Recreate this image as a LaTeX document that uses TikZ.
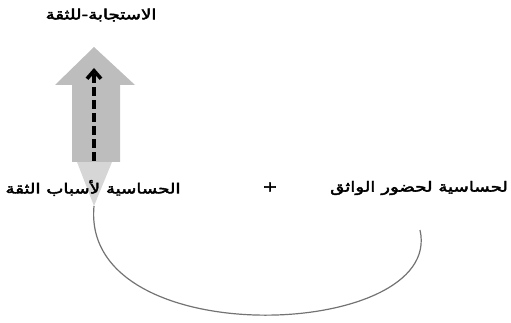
\documentclass[tikz,border=0pt]{standalone}
\usepackage{fontspec}
\newfontfamily\arabicfont[Script=Arabic, FakeBold=3, FakeStretch=1.3]{DejaVu Sans}
\TeXXeTstate=1
\usetikzlibrary{
    arrows.meta,
    positioning
}
\definecolor{blockgray}{gray}{0.74}
\definecolor{funnelgray}{gray}{0.84}
\tikzstyle{artext} = [
    font=\arabicfont\fontsize{14}{16}\selectfont,
    inner sep=0pt
]
\tikzstyle{dasharrow} = [
    -{Straight Barb[length=8pt, width=14pt]},
    line width=3.6pt,
    dash pattern=on 9pt off 4pt,
    draw=black
]

\begin{document}
\begin{tikzpicture}[x=1pt, y=-1pt]
        \useasboundingbox (0,0) rectangle (511,323);

        % Funnel below the block arrow
        \fill[funnelgray] (77,162) -- (112,162) -- (94,206) -- cycle;
        \coordinate (funneltip) at (94,206);

        % Block arrow (grey)
        \fill[blockgray] (72,162) -- (72,85) -- (55,85) -- (94,47)
            -- (135,85) -- (120,85) -- (120,162) -- cycle;

        % Dashed arrow inside
        \coordinate (dashbot) at (94,161);
        \coordinate (dashtop) at (94,68);
        \draw[dasharrow] (dashbot) -- (dashtop);

        % Labels
        \node[artext] (response) at (101,15) {\beginR الاستجابة-للثقة\endR};
        \node[artext] (causes) at (93,188) {\beginR الحساسية لأسباب الثقة\endR};
        \node[artext] (presence) at (419,188) {\beginR لحساسية لحضور الواثق\endR};
        \node[artext] (plus) at (270,187) {+};

        % Loop back
        \coordinate (loopend) at (420,230);
        \draw[gray!90!black, line width=1.2pt] (funneltip) .. controls (80,355) and (445,340) .. (loopend);
    \end{tikzpicture}
\end{document}
